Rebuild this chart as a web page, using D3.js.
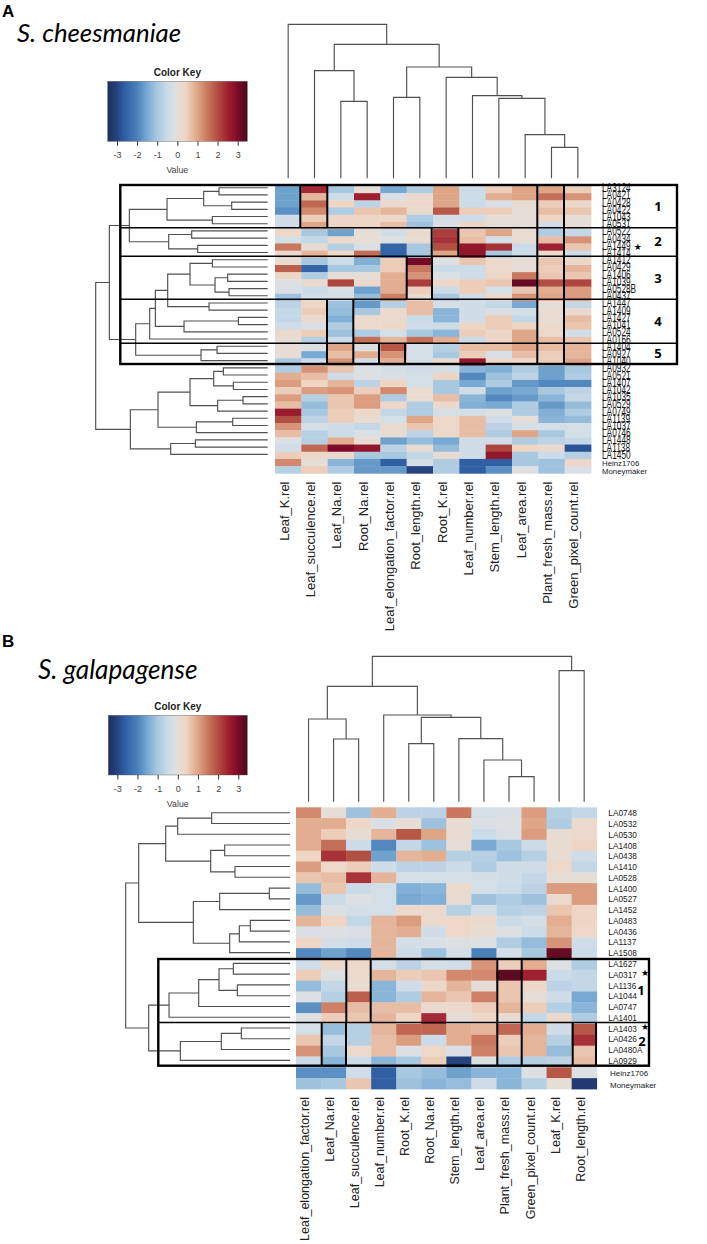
<!DOCTYPE html>
<html><head><meta charset="utf-8">
<script src="https://cdn.jsdelivr.net/npm/d3@7"></script>
<style>html,body{margin:0;padding:0;background:#fff}svg{display:block}</style>
</head><body><svg id="c" width="707" height="1244" font-family="'Liberation Sans',Arial,sans-serif"></svg>
<script>
const traitsA=["Leaf_K.rel","Leaf_succulence.rel","Leaf_Na.rel","Root_Na.rel","Leaf_elongation_factor.rel","Root_length.rel","Root_K.rel","Leaf_number.rel","Stem_length.rel","Leaf_area.rel","Plant_fresh_mass.rel","Green_pixel_count.rel"];
const accessionsA=["LA3124","LA0421","LA0428","LA0422","LA1043","LA0531","LA0522","LA0434","LA1449","LA1414","LA1412","LA0429","LA1406","LA1039","LA0528B","LA0437","LA1447","LA1409","LA1427","LA1041","LA0524","LA0166","LA1404","LA0927","LA1040","LA0932","LA0521","LA1407","LA1042","LA1035","LA0529","LA0749","LA1139","LA1037","LA0746","LA1448","LA1138","LA1450","Heinz1706","Moneymaker"];
const valuesA=[
[-1.6,2.4,-1,0,-1.5,-.9,1,-.5,.5,1,1,.5],
[-1.6,.8,-.4,2.5,-.2,.2,1,-.5,.9,1,1.6,1.2],
[-1.6,1.7,.4,-.7,.2,.2,1,-.5,-.2,.1,.5,.3],
[-1.8,1.3,-.9,.6,.8,.1,1.9,.5,.5,0,.7,.6],
[-.4,.5,.3,.4,.3,-.9,-.3,-.4,0,0,.4,0],
[-.4,1,.4,.4,.7,-1.1,-.2,.4,0,0,-.4,0],
[.3,-1,-1.6,0,-.4,.2,2.2,.6,1,.1,-.9,-.6],
[-.3,-.6,.2,0,-.1,.1,2.3,.7,-.3,.1,.7,1.2],
[1.5,.1,-.8,-.2,-2.5,-1,2,2.7,2.3,-.5,2.5,.6],
[.2,.8,.3,1.6,-2.5,-1,1,2.7,-1,-.5,.2,-.5],
[.1,-1,-.5,-1.4,.5,3.1,-.1,.6,.2,0,.6,.3],
[1.8,-2.5,-1,-1,.5,1.5,-.5,-.5,.3,0,.5,.8],
[.4,-.9,0,0,.9,1.2,-.1,-.4,.3,1.5,.6,.6],
[-.1,.2,2.1,.2,.9,2.2,.3,.5,.6,3.2,2,2.1],
[-.2,-.5,-.2,-1.6,.9,.5,-.5,.5,-.3,.6,.9,1.1],
[-1.1,-.3,-.3,-1.2,1.4,.2,-1,-.4,.3,1.2,1,1.1],
[-.7,.4,-1.1,-1.7,-.8,.7,-.3,-.4,-.6,-1.5,0,-.6],
[-.6,.5,-1.2,-1,.2,.7,-1.3,-.4,-.2,-.3,.1,.2],
[-.6,.2,-1.4,.2,.2,-.5,-1.3,-.4,.5,-.6,.1,.7],
[-.4,-.2,-.9,.2,.3,-.4,-.5,.4,.5,.4,.2,.6],
[.2,.5,-1.1,-.9,-.3,-1,-1.3,.5,.3,1,.3,-.3],
[0,-.8,-.5,1.6,.8,1.6,.9,-.5,.3,1,.7,.6],
[0,-.1,1,-.1,1.9,-.3,-.8,.7,.7,1,.7,.8],
[0,-1.5,.7,.9,1.2,-.3,-1,.5,-.2,.7,.5,.8],
[-1,-.4,1.2,-.4,.9,-.3,.1,2.7,.3,.3,.5,1],
[-.9,1.2,.6,-.1,-.3,-.4,-.3,-1.3,-1.4,-.9,-1.6,-1],
[.9,.7,-.4,-.1,-.2,-.3,.4,-1.9,-1.1,-.7,-1.6,-.9],
[1.1,.4,.8,-.7,.4,-.3,-1,-1.5,-.9,-1.7,-1.9,-1.9],
[.5,1.1,1.2,.5,1.3,.1,-1,-.4,-1.6,-1.5,-1,-.7],
[1.1,-.8,.6,1.1,-.9,.1,.7,-1.3,-1.9,-1.7,-1.3,-.6],
[.7,-1.2,.6,1.1,.3,-.9,.2,-1.4,-1.5,-.9,-1.7,-1.2],
[2.6,-1,.5,.3,-.6,-.9,-.3,-.3,-.1,-.9,-1.4,-.9],
[2,-.7,.5,.1,-.3,1,.3,.7,-.4,0,-1.3,-1.2],
[1.2,-.3,-.4,-.6,.1,.6,.3,.7,-.7,-.3,-.3,-.3],
[.7,-.8,-.5,-.2,.1,-.7,.3,.7,-.9,1,-1,-.3],
[-.1,-.8,.9,.1,-1.6,-1.2,-1.5,-.4,-.4,-.9,-.7,-.6],
[-.4,1.7,3,2.7,-.7,.1,-1.2,-.4,2.1,.4,.2,-2.8],
[.5,.3,.2,-1,-1,-.6,.1,-.4,2.7,-1,-.5,-.8],
[1.3,0,-1.3,-1.7,-2.6,-.3,-.9,-2.6,-2.6,-1,-1.1,.3],
[-.8,.5,-.9,-1.7,-1.7,-3,-.9,-2.6,-1.8,-.1,-1.1,-.2]];
const traitsB=["Leaf_elongation_factor.rel","Leaf_Na.rel","Leaf_succulence.rel","Leaf_number.rel","Root_K.rel","Root_Na.rel","Stem_length.rel","Leaf_area.rel","Plant_fresh_mass.rel","Green_pixel_count.rel","Leaf_K.rel","Root_length.rel"];
const accessionsB=["LA0748","LA0532","LA0530","LA1408","LA0438","LA1410","LA0528","LA1400","LA0527","LA1452","LA0483","LA0436","LA1137","LA1508","LA1627","LA0317","LA1136","LA1044","LA0747","LA1401","LA1403","LA0426","LA0480A","LA0929","Heinz1706","Moneymaker"];
const valuesB=[
[1.3,0,-1.1,.9,-.7,-.7,1.5,-.3,-.2,1.1,-.8,-.6],
[.9,.9,.3,-.2,0,-1.1,.1,-.2,-.1,1,-.9,.2],
[.9,.5,.1,.8,1.9,1,.1,-.5,-.2,1.1,.1,.2],
[.9,1.6,-.5,-1.9,-.6,-1.1,0,-1.5,-1,-.5,.1,.4],
[.4,2.3,2,-1.6,.8,.9,-.8,-.8,-1.1,-.8,.1,-.4],
[1.1,.3,.5,-.4,-.7,-.7,-.5,-.9,-.4,-.4,.3,-.6],
[.6,.7,2.3,.8,-.3,-.3,-.3,-.3,-.4,-.6,0,0],
[-1.2,.6,-.5,-.3,-1.4,-1.3,.2,-.3,-.5,-.7,1.1,1.1],
[-1.7,-.5,-.1,-.3,-1.5,-1.4,.1,-1.1,-.9,-1.1,.2,1.1],
[-1.2,-.1,-.3,-.3,.2,.2,-.8,-.3,-.8,-.7,.6,.4],
[.8,.4,-.6,.8,1.1,.2,.3,.2,-.5,-.3,.9,.4],
[-.2,-.1,-.2,.8,.9,-.4,.3,.1,-.1,-.5,.8,.3],
[.4,-.3,-.4,.8,-.3,-.2,-.1,-.1,-.9,-1.2,1.2,-.4],
[-1.9,-1.6,-1.9,.8,-.5,-1.1,-.3,-2,-.3,-1,3.2,-.5],
[-.4,.3,.3,-.3,-.7,-.3,-.4,1.2,.5,.9,-.1,-.9],
[.5,-.1,.2,.8,.5,.6,1.3,1.3,3.3,2.5,-.5,-.6],
[-1.2,-.6,.1,-1.3,-.4,.3,.8,0,.6,.3,-.7,-.6],
[-.1,-.8,1.8,-1.3,-.9,.8,.6,1.4,.6,0,-.4,-1.5],
[-1.8,1.4,.7,.7,.7,.2,.2,.5,.8,.5,-.8,-1.3],
[-.1,.5,.6,.8,.4,2.4,0,.3,.1,-.6,.2,-.9],
[-.3,-1.2,-.8,.8,1.7,1.7,.9,.8,1.7,.9,-.4,1.9],
[.6,-.6,-.8,.7,1.1,-.5,.9,1.5,.5,.8,-.8,2.3],
[1.2,-1,.2,.7,-.1,.3,-.2,1.4,.6,.8,-1.2,.6],
[-.5,-1.3,-.5,-1.3,-1,.5,-3,-.1,-.9,-.8,-.7,.7],
[-1.8,-1.8,-.4,-2.6,-1,-1.2,-1.6,-1.3,-1.3,-.1,1.9,-.1],
[-1.1,-1,.6,-2.6,-1.1,-1.3,-1.2,-.4,-1.3,-.8,0,-3.2]];
// dendrograms: [height, child, child]; an integer child is a leaf index
const colTreeA=[4.62,0,[4.02,[3.23,1,[2.31,2,3]],[3.34,[2.43,4,5],[3.03,6,[2.48,7,[2.40,8,[1.31,9,[.93,10,11]]]]]]]];
const rowTreeA=[5.16,
 [4.75,
  [4.15,[3.02,[1.92,[1.46,0,1],[1.08,2,3]],[1.66,4,5]],[2.97,[2.28,6,7],[2.10,8,9]]],
  [3.96,[3.54,[3.37,[3.00,[2.33,[1.66,10,11],[1.58,[1.20,12,13],[1.16,14,15]]],[1.76,16,17]],[2.51,[.88,18,19],20]],21],[2.00,[1.52,22,23],24]]],
 [4.12,
  [3.29,[2.33,[1.62,[1.33,25,26],[1.03,27,28]],[1.50,[.74,29,30],31]],[2.14,[1.05,32,33],34]],
  [2.91,[2.17,35,36],37]]];
const colTreeB=[4.36,[3.46,[2.48,0,[1.88,1,2]],[2.60,3,[2.53,[1.74,4,5],[1.89,6,[1.25,7,[.75,8,9]]]]]],[3.93,10,11]];
const rowTreeB=[4.93,
 [4.54,
  [3.73,[3.37,[2.35,0,1],2],[2.38,[1.96,3,4],[1.65,5,6]]],
  [2.90,[2.11,[.62,7,8],9],[1.81,[1.52,[1.19,10,11],12],13]]],
 [4.24,
  [3.63,[2.74,[2.13,[1.70,14,15],[1.58,16,17]],18],19],
  [3.29,[2.06,[1.46,20,21],22],23]]];
const keyTicks=[-3,-2,-1,0,1,2,3];
const colorStops=[[-3.47,"#1d2d5e"],[-3,"#25447f"],[-2.7,"#2d5a9f"],[-2,"#4a80ba"],[-1.5,"#78a9d2"],[-1,"#a8c8e0"],[-.5,"#cbdbe8"],[-.1,"#dde0e3"],[0,"#e6ddd6"],[.4,"#efd5c4"],[1,"#dfa587"],[1.5,"#c9775e"],[2,"#b14f42"],[2.5,"#a01f30"],[3,"#7d0a28"],[3.47,"#4a0a1e"]];

const color=d3.scaleLinear().domain(colorStops.map(d=>d[0])).range(colorStops.map(d=>d[1])).clamp(true);
const svg=d3.select("#c");
const SANS='"Liberation Sans",Arial,sans-serif', HEAD='"Open Sans",sans-serif';

function dendro(tree,leafPos,hPos,horizontal){
  const root=d3.hierarchy(tree,d=>Array.isArray(d)?d.slice(1):null);
  root.eachAfter(n=>{
    n.h=Array.isArray(n.data)?n.data[0]:0;
    n.p=n.children?d3.mean(n.children,c=>c.p):leafPos(n.data);
  });
  const g=svg.append("g").attr("fill","none").attr("stroke","#505050").attr("stroke-width",1.15);
  root.descendants().filter(n=>n.children).forEach(n=>{
    const [a,b]=n.children, H=hPos(n.h);
    const pts=[[hPos(a.h),a.p],[H,a.p],[H,b.p],[hPos(b.h),b.p]];
    g.append("path").attr("d",d3.line().x(d=>horizontal?d[0]:d[1]).y(d=>horizontal?d[1]:d[0])(pts));
  });
}
function panel(o){
  const x=d3.scaleBand().domain(o.traits).range(o.xr);
  const y=d3.scaleBand().domain(o.rows).range(o.yr);
  const g=svg.append("g");
  o.values.forEach((row,i)=>g.selectAll(null).data(row).join("rect")
    .attr("x",(d,j)=>x(o.traits[j])).attr("y",y(o.rows[i]))
    .attr("width",x.bandwidth()+.4).attr("height",y.bandwidth()+.4)
    .attr("fill",d=>color(d)));
  dendro(o.colTree,i=>x(o.traits[i])+x.bandwidth()/2,d3.scaleLinear().domain([0,o.colTree[0]]).range(o.colH),false);
  const leafY=d3.scaleLinear().domain([0,o.leafN-1]).range(o.leafY);
  dendro(o.rowTree,leafY,d3.scaleLinear().domain([0,o.rowTree[0]]).range(o.rowH),true);
  o.rows.forEach((r,i)=>{
    const special=i>=o.leafN;
    const cy=special?o.extraY[i-o.leafN]:leafY(i);
    svg.append("text").text(r)
      .attr("transform",`translate(${special?o.extraX:o.labX},${cy+(special?3:o.stretch*3)}) scale(1,${special?1:o.stretch})`)
      .attr("font-size",special?o.extraFs:8.3).attr("fill","#1a1a1a");
  });
  o.traits.forEach(t=>{
    svg.append("text").text(t)
      .attr("transform",`translate(${x(t)+x.bandwidth()/2+o.colDx},${o.colTop}) rotate(-90)`)
      .attr("text-anchor","end").attr("font-size",o.colFs).attr("fill","#222");
  });
  const kx=d3.scaleLinear().domain([-3,3]).range(o.keyTick);
  const kdom=kx.invert(o.keyX[0]), kdom2=kx.invert(o.keyX[1]);
  const id="grad"+o.id;
  const grad=svg.append("defs").append("linearGradient").attr("id",id);
  colorStops.forEach(s=>grad.append("stop")
    .attr("offset",(s[0]-kdom)/(kdom2-kdom)).attr("stop-color",s[1]));
  svg.append("rect").attr("x",o.keyX[0]).attr("y",o.keyY[0]).attr("width",o.keyX[1]-o.keyX[0]).attr("height",o.keyY[1]-o.keyY[0]).attr("fill",`url(#${id})`).attr("stroke","#555").attr("stroke-width",.4);
  const ax=svg.append("g").attr("transform",`translate(0,${o.keyY[1]})`).call(d3.axisBottom(kx).tickValues(keyTicks).tickSize(4.5).tickFormat(d=>String(d)).tickPadding(6));
  ax.select(".domain").remove();
  ax.selectAll("line").attr("stroke","#333");
  ax.selectAll("text").attr("font-size",9).attr("fill","#444").attr("font-family",SANS);
  svg.append("text").text("Value").attr("x",kx(0)).attr("y",o.keyY[1]+31.5).attr("text-anchor","middle").attr("font-size",8.8).attr("fill","#444");
  svg.append("text").text("Color Key").attr("x",kx(0)).attr("y",o.keyY[0]-5.5).attr("text-anchor","middle").attr("font-size",10).attr("font-weight","bold").attr("fill","#222");
  const L=svg.append("g").attr("stroke","#000").attr("fill","none");
  L.append("rect").attr("x",o.box[0]).attr("y",o.box[1]).attr("width",o.box[2]-o.box[0]).attr("height",o.box[3]-o.box[1]).attr("stroke-width",2.4);
  o.hLines.forEach(v=>L.append("line").attr("x1",o.box[0]).attr("x2",o.box[2]).attr("y1",v).attr("y2",v).attr("stroke-width",1.6));
  o.vLines.forEach(v=>L.append("line").attr("x1",v[0]).attr("x2",v[0]).attr("y1",v[1]).attr("y2",v[2]).attr("stroke-width",2));
  svg.append("text").text(o.letter).attr("x",o.letterX).attr("y",o.letterY).attr("font-family",SANS).attr("font-weight","bold").attr("font-size",17).attr("fill","#000");
  svg.append("text").text(o.title).attr("x",o.titleX).attr("y",o.titleY).attr("font-family","Lato,sans-serif").attr("font-style","italic").attr("font-size",o.titleFs).attr("fill","#000");
  o.nums.forEach(n=>svg.append("text").text(n[0]).attr("x",n[1]).attr("y",n[2]).attr("text-anchor","middle").attr("font-family",HEAD).attr("font-weight","bold").attr("font-size",13).attr("fill","#000"));
  o.stars.forEach(s=>svg.append("text").text("★").attr("x",s[0]).attr("y",s[1]).attr("text-anchor","middle").attr("font-family","DejaVu Sans").attr("font-size",9).attr("fill","#000"));
}
panel({id:"A",traits:traitsA,rows:accessionsA,values:valuesA,colTree:colTreeA,rowTree:rowTreeA,
  xr:[275,591],yr:[186,473.3],colH:[178.3,24.3],rowH:[267.7,95.7],leafN:38,leafY:[187.7,454.3],
  labX:602,stretch:1.5,extraY:[462.7,470.7],extraX:602,extraFs:7.8,colDx:.5,colTop:481.5,colFs:13,
  keyX:[107.7,247.3],keyY:[81.3,141.3],keyTick:[117,237.7],
  box:[120.3,185,677,364],hLines:[227.7,256.3,299.3,343.3],
  vLines:[[300.3,185,227.7],[327.3,185,227.7],[431.7,227.7,256.3],[458.3,227.7,256.3],[406.7,256.3,299.3],[432,256.3,299.3],[327,299.3,364],[353.3,299.3,364],[379,343.3,364],[405,343.3,364],[537.3,185,364],[564,185,364]],
  letter:"A",letterX:2,letterY:17,title:"S. cheesmaniae",titleX:17,titleY:41.7,titleFs:25.8,
  nums:[["1",658,211],["2",658,245.5],["3",658,283],["4",658,326],["5",658,358]],stars:[[637.7,249.5]]});
panel({id:"B",traits:traitsB,rows:accessionsB,values:valuesB,colTree:colTreeB,rowTree:rowTreeB,
  xr:[296,596.7],yr:[807.3,1089],colH:[801.7,656.3],rowH:[290,125.7],leafN:24,leafY:[812.7,1060.3],
  labX:608.3,stretch:1.2,extraY:[1073.3,1085],extraX:610,extraFs:8,colDx:.5,colTop:1097,colFs:12.5,
  keyX:[108.3,247.3],keyY:[715.3,775],keyTick:[117.3,238.3],
  box:[158.3,959,649,1065.7],hLines:[1022.5],
  vLines:[[346.3,959,1022.5],[370.7,959,1022.5],[321.7,1022.5,1065.7],[346,1022.5,1065.7],[497.3,959,1065.7],[521.7,959,1065.7],[572.7,1022.5,1065.7],[596,1022.5,1065.7]],
  letter:"B",letterX:2,letterY:647,title:"S. galapagense",titleX:38,titleY:679,titleFs:26.2,
  nums:[["1",641,995],["2",642,1046]],stars:[[645,976],[645,1030]]});
</script></body></html>
